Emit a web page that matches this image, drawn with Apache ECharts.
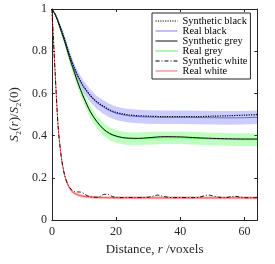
<!DOCTYPE html>
<html><head><meta charset="utf-8">
<script src="https://cdn.jsdelivr.net/npm/echarts@6/dist/echarts.min.js"></script>
<style>html,body{margin:0;padding:0;background:#fff}#c{width:275px;height:264px}</style>
</head><body><div id="c"></div>
<script>
// ---- data ----
const rBG = [0,1,2,3,4,5,6,7,8,9,10,12,14,16,18,20,22,24,27,30,35,40,45,50,55,60,64];
const synBlack  = [1,0.975,0.94,0.90,0.855,0.805,0.76,0.72,0.685,0.655,0.63,0.59,0.56,0.54,0.522,0.51,0.503,0.498,0.494,0.492,0.49,0.49,0.49,0.492,0.494,0.497,0.499];
const realBlack = [1,0.975,0.94,0.90,0.855,0.805,0.76,0.72,0.685,0.655,0.628,0.588,0.557,0.536,0.518,0.506,0.499,0.494,0.49,0.488,0.487,0.487,0.486,0.485,0.484,0.485,0.487];
const bandBlack = [0,0.004,0.008,0.012,0.015,0.018,0.02,0.022,0.024,0.026,0.028,0.03,0.031,0.032,0.032,0.032,0.032,0.032,0.032,0.032,0.032,0.032,0.032,0.032,0.032,0.032,0.032];
const synGrey   = [1,0.975,0.935,0.89,0.845,0.795,0.745,0.70,0.655,0.615,0.578,0.513,0.467,0.432,0.41,0.398,0.391,0.388,0.387,0.39,0.395,0.394,0.39,0.387,0.385,0.384,0.384];
const realGrey  = [1,0.975,0.935,0.89,0.843,0.792,0.742,0.697,0.652,0.612,0.575,0.51,0.464,0.43,0.408,0.396,0.389,0.386,0.385,0.387,0.39,0.39,0.387,0.384,0.382,0.381,0.381];
const bandGrey  = [0,0.004,0.008,0.012,0.015,0.018,0.02,0.022,0.024,0.026,0.027,0.028,0.029,0.03,0.03,0.03,0.03,0.03,0.03,0.03,0.03,0.03,0.03,0.03,0.03,0.03,0.03];

const rRealWhite = [0,1,2,3,4,5,6,7,8,9,10,12,14,16,20,25,30,35,40,45,50,55,60,64];
const realWhite  = [1,0.70,0.43,0.29,0.21,0.165,0.14,0.127,0.12,0.115,0.112,0.109,0.107,0.106,0.105,0.105,0.105,0.105,0.105,0.105,0.105,0.105,0.105,0.105];
const bandWhite  = [0,0.006,0.008,0.008,0.008,0.008,0.008,0.008,0.008,0.008,0.007,0.007,0.007,0.007,0.007,0.007,0.007,0.007,0.007,0.007,0.007,0.007,0.007,0.007];

const rSynWhite = [0,1,2,3,4,5,6,7,8,9,10,11,12,13,14,15,16,17,18,19,20,22,24,26,28,30,32,33,34,36,38,40,42,44,46,48,49,50,52,54,56,57,58,60,62,64];
const synWhite  = [1,0.70,0.43,0.29,0.21,0.168,0.145,0.135,0.133,0.132,0.125,0.115,0.11,0.108,0.108,0.112,0.12,0.122,0.118,0.11,0.107,0.106,0.107,0.106,0.107,0.108,0.115,0.118,0.115,0.108,0.106,0.107,0.106,0.106,0.108,0.117,0.118,0.115,0.108,0.106,0.111,0.113,0.11,0.106,0.105,0.106];

const xTicks = [0,20,40,60];
const yTicks = [0,0.2,0.4,0.6,0.8,1];
const names = ['Synthetic black','Real black','Synthetic grey','Real grey','Synthetic white','Real white'];

// ---- build ----
const pairs = (xs, ys) => xs.map((x,i)=>[x, ys[i]]);
const FONT = 'Liberation Serif';
const AX = '#262626';

function band(id, xs, ys, hw, color) {
  const rows = xs.map((x,i)=>[x, ys[i]-hw[i], ys[i]+hw[i]]);
  return {
    type:'custom', name:id, silent:true, z:1, clip:true,
    data: rows,
    encode:{x:0, y:[1,2]},
    renderItem: function(params, api) {
      if (params.dataIndex !== 0) return null;
      const upper = rows.map(r => api.coord([r[0], r[2]]));
      const lower = rows.slice().reverse().map(r => api.coord([r[0], r[1]]));
      return {type:'polygon', shape:{points: upper.concat(lower)}, style:{fill:color, stroke:null}};
    }
  };
}

const series = [
  band('bb', rBG, realBlack, bandBlack, 'rgba(0,0,255,0.2)'),
  band('bg', rBG, realGrey, bandGrey, 'rgba(0,255,0,0.25)'),
  band('bw', rRealWhite, realWhite, bandWhite, 'rgba(255,0,0,0.25)'),
  {type:'line', name:'Real black', data:pairs(rBG, realBlack), symbol:'none', smooth:0.3,
   lineStyle:{color:'rgba(0,0,255,0.5)', width:1}, itemStyle:{color:'rgba(0,0,255,0.5)'}, z:2},
  {type:'line', name:'Real grey', data:pairs(rBG, realGrey), symbol:'none', smooth:0.3,
   lineStyle:{color:'rgba(0,220,0,0.6)', width:1}, itemStyle:{color:'rgba(0,220,0,0.6)'}, z:2},
  {type:'line', name:'Real white', data:pairs(rRealWhite, realWhite), symbol:'none', smooth:0.3,
   lineStyle:{color:'rgba(255,0,0,0.6)', width:1}, itemStyle:{color:'rgba(255,0,0,0.6)'}, z:2},
  {type:'line', name:'Synthetic black', data:pairs(rBG, synBlack), symbol:'none', smooth:0.3,
   lineStyle:{color:'#000', width:1.2, type:[1.2,1.2]}, itemStyle:{color:'#000'}, z:3},
  {type:'line', name:'Synthetic grey', data:pairs(rBG, synGrey), symbol:'none', smooth:0.3,
   lineStyle:{color:'#111', width:1}, itemStyle:{color:'#111'}, z:3},
  {type:'line', name:'Synthetic white', data:pairs(rSynWhite, synWhite), symbol:'none', smooth:0.3,
   lineStyle:{color:'#000', width:0.9, type:[4,2,1,2]}, itemStyle:{color:'#000'}, z:3}
];

const axCommon = {
  axisLine:{show:true, onZero:false, lineStyle:{color:AX, width:1}},
  axisTick:{show:true, inside:true, length:3, lineStyle:{color:AX}},
  splitLine:{show:false}
};

const chart = echarts.init(document.getElementById('c'), null, {renderer:'canvas'});
chart.setOption({
  animation:false,
  backgroundColor:'#fff',
  textStyle:{fontFamily:FONT},
  grid:{left:46.5, right:17.7, top:9, bottom:44},
  xAxis:[
    Object.assign({type:'value', min:0, max:64, interval:20, position:'bottom',
      name:'Distance, {i|r} /voxels', nameLocation:'middle', nameGap:19,
      nameTextStyle:{fontFamily:FONT, fontSize:13, color:AX, rich:{i:{fontFamily:FONT, fontSize:13, fontStyle:'italic', color:AX}}},
      axisLabel:{fontFamily:FONT, fontSize:12, color:AX, margin:6,
        formatter: v => { const t = xTicks.find(k => Math.abs(k - v) < 1e-9); return t === undefined ? '' : String(t); }}}, axCommon),
    Object.assign({type:'value', min:0, max:64, interval:20, position:'top',
      axisLabel:{show:false}}, axCommon)
  ],
  yAxis:[
    Object.assign({type:'value', min:0, max:1, interval:0.2, position:'left',
      name:'{i|S}₂({i|r})/{i|S}₂(0)', nameLocation:'middle', nameGap:26, nameRotate:90,
      nameTextStyle:{fontFamily:FONT, fontSize:13, color:AX, rich:{i:{fontFamily:FONT, fontSize:13, fontStyle:'italic', color:AX}}},
      axisLabel:{fontFamily:FONT, fontSize:12, color:AX, margin:5,
        formatter: v => { const t = yTicks.find(k => Math.abs(k - v) < 1e-9); return t === undefined ? '' : String(t); }}}, axCommon),
    Object.assign({type:'value', min:0, max:1, interval:0.2, position:'right',
      axisLabel:{show:false}}, axCommon)
  ],
  legend:{
    data: names, orient:'vertical', left:152, top:13,
    backgroundColor:'#fff', borderColor:AX, borderWidth:1, borderRadius:0,
    padding:[3,3,3,3], itemGap:0, itemWidth:22, itemHeight:11.7,
    itemStyle:{opacity:0},
    lineStyle:{width:1},
    textStyle:{fontFamily:FONT, fontSize:10.4, color:'#000'},
    selectedMode:false
  },
  series: series
});
</script></body></html>
